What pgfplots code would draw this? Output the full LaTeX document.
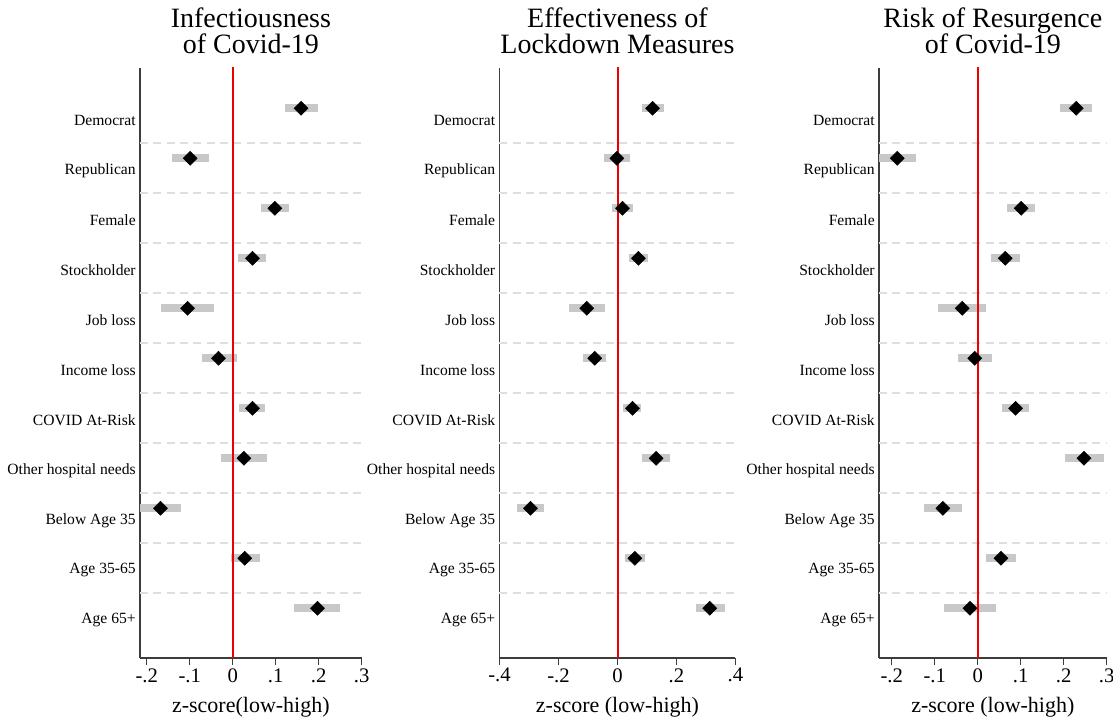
\documentclass[border=0pt]{standalone}
\usepackage{pgfplots}
\pgfplotsset{compat=1.18}
\usepackage{pgfplotstable}
\usepackage{fontspec}
\setmainfont{Liberation Serif}
\definecolor{ciGray}{RGB}{200,200,200}
\definecolor{gridGray}{RGB}{222,222,222}
\definecolor{axGray}{RGB}{60,60,60}
\definecolor{zeroRed}{RGB}{235,0,0}

% columns: y (negative row index), est, lo, hi
\pgfplotstableread{
y est lo hi
-1 0.159 0.122 0.199
-2 -0.099 -0.141 -0.054
-3 0.098 0.066 0.132
-4 0.046 0.012 0.078
-5 -0.105 -0.167 -0.043
-6 -0.033 -0.072 0.009
-7 0.046 0.014 0.075
-8 0.026 -0.027 0.079
-9 -0.168 -0.216 -0.120
-10 0.028 -0.005 0.063
-11 0.197 0.143 0.250
}\tabInfect
\pgfplotstableread{
y est lo hi
-1 0.119 0.083 0.157
-2 -0.002 -0.044 0.042
-3 0.017 -0.017 0.051
-4 0.071 0.040 0.103
-5 -0.104 -0.163 -0.043
-6 -0.077 -0.117 -0.038
-7 0.051 0.019 0.081
-8 0.131 0.084 0.179
-9 -0.295 -0.341 -0.249
-10 0.059 0.026 0.094
-11 0.313 0.267 0.365
}\tabLock
\pgfplotstableread{
y est lo hi
-1 0.229 0.191 0.266
-2 -0.187 -0.230 -0.144
-3 0.101 0.067 0.134
-4 0.064 0.031 0.098
-5 -0.036 -0.092 0.020
-6 -0.007 -0.046 0.033
-7 0.088 0.057 0.119
-8 0.247 0.202 0.294
-9 -0.081 -0.125 -0.037
-10 0.054 0.019 0.088
-11 -0.018 -0.078 0.042
}\tabResurg

\pgfplotsset{
  coefpanel/.style={
    scale only axis,
    height=442.5pt,
    anchor=south west,
    ymin=-11.994, ymax=-0.194,
    axis x line*=bottom, axis y line*=left,
    axis line style={-, draw=axGray, line width=1.1pt},
    ytick={-1.24,-2.24,-3.24,-4.24,-5.24,-6.24,-7.24,-8.24,-9.24,-10.24,-11.24},
    yticklabels={Democrat,Republican,Female,Stockholder,Job loss,Income loss,COVID At-Risk,Other hospital needs,Below Age 35,Age 35-65,Age 65+},
    ytick style={draw=none},
    yticklabel style={font=\fontsize{11.7}{14}\selectfont, anchor=east, inner sep=0pt, xshift=2.2pt},
    extra y ticks={-1.7,-2.7,-3.7,-4.7,-5.7,-6.7,-7.7,-8.7,-9.7,-10.7},
    extra y tick labels={},
    extra y tick style={ymajorgrids=true, tick style={draw=none},
      major grid style={draw=gridGray, line width=1.5pt, dash pattern=on 6pt off 4pt}},
    xtick style={draw=axGray, line width=1pt},
    tick align=outside,
    major tick length=5.25pt,
    xticklabel style={font=\fontsize{15.5}{17}\selectfont, yshift=1pt},
    xlabel style={font=\fontsize{16.5}{18}\selectfont, yshift=-4pt},
    title style={font=\fontsize{21}{20}\selectfont, align=center, yshift=1pt},
    clip=true,
  },
  cibar/.style={only marks, mark=none,
    error bars/.cd, x dir=both, x explicit, error mark=none,
    error bar style={draw=ciGray, line width=6pt, line cap=butt}},
  zeroline/.style={draw=zeroRed, line width=1.5pt, mark=none, forget plot},
  pointmark/.style={only marks, mark=square*, mark size=3.7pt,
    mark options={rotate=45, fill=black, draw=black}},
}

\begin{document}
\begin{tikzpicture}
\useasboundingbox (0,0) rectangle (834.75pt,540pt);

% Panel 1
\begin{axis}[coefpanel, at={(105pt,46.5pt)}, width=166.3pt,
  xmin=-0.2156, xmax=0.3,
  xtick={-0.2,-0.1,0,0.1,0.2,0.3}, xticklabels={-.2,-.1,0,.1,.2,.3},
  xlabel={z-score(low-high)},
  title={Infectiousness\\of Covid-19}]
\addplot[cibar] table[x=est, y=y, x error plus expr=\thisrow{hi}-\thisrow{est}, x error minus expr=\thisrow{est}-\thisrow{lo}] {\tabInfect};
\addplot[zeroline] coordinates {(0.0003,-12.5) (0.0003,0.5)};
\addplot[pointmark] table[x=est, y=y] {\tabInfect};
\end{axis}

% Panel 2
\begin{axis}[coefpanel, at={(374.6pt,46.5pt)}, width=177pt,
  xmin=-0.4, xmax=0.4,
  xtick={-0.4,-0.2,0,0.2,0.4}, xticklabels={-.4,-.2,0,.2,.4},
  xlabel={z-score (low-high)},
  title={Effectiveness of\\Lockdown Measures}]
\addplot[cibar] table[x=est, y=y, x error plus expr=\thisrow{hi}-\thisrow{est}, x error minus expr=\thisrow{est}-\thisrow{lo}] {\tabLock};
\addplot[zeroline] coordinates {(0.0003,-12.5) (0.0003,0.5)};
\addplot[pointmark] table[x=est, y=y] {\tabLock};
\end{axis}

% Panel 3
\begin{axis}[coefpanel, at={(659.25pt,46.5pt)}, width=170.8pt,
  xmin=-0.2295, xmax=0.3,
  xtick={-0.2,-0.1,0,0.1,0.2,0.3}, xticklabels={-.2,-.1,0,.1,.2,.3},
  xlabel={z-score (low-high)},
  title={Risk of Resurgence\\of Covid-19}]
\addplot[cibar] table[x=est, y=y, x error plus expr=\thisrow{hi}-\thisrow{est}, x error minus expr=\thisrow{est}-\thisrow{lo}] {\tabResurg};
\addplot[zeroline] coordinates {(0.0003,-12.5) (0.0003,0.5)};
\addplot[pointmark] table[x=est, y=y] {\tabResurg};
\end{axis}
\end{tikzpicture}
\end{document}
